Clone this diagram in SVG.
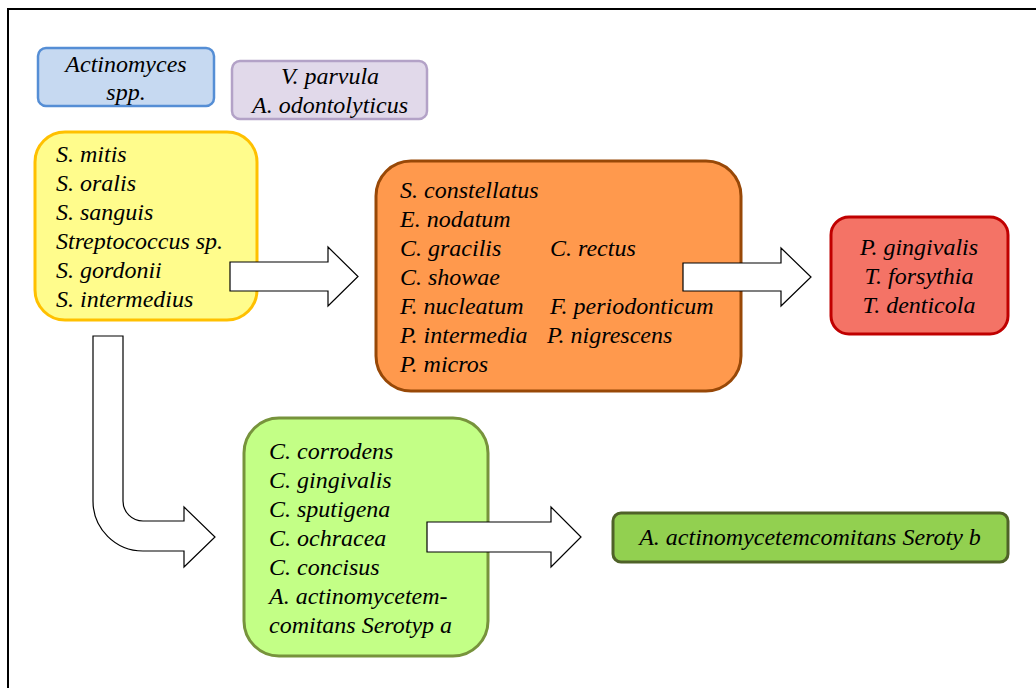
<svg xmlns="http://www.w3.org/2000/svg" width="1036" height="688" viewBox="0 0 1036 688">
<style>
text{font-family:'Liberation Serif','Times New Roman','Noto Serif','DejaVu Serif',serif;font-style:italic;font-size:24px;fill:#000}
.c{text-anchor:middle}
.arr{fill:#fff;stroke:#000;stroke-width:1.2;stroke-linejoin:miter}
.frame{stroke:#000;stroke-width:2;fill:none}
</style>
<rect width="1036" height="688" fill="#fff"/>
<path class="frame" d="M8,688 V9 H1036"/>
<g id="actinomyces">
<rect x="38" y="48" width="176" height="58" rx="8" fill="#C6D9F1" stroke="#558ED5" stroke-width="2.5"/>
<text class="c" x="126" y="72">Actinomyces</text>
<text class="c" x="126" y="100">spp.</text>
</g>
<g id="vparvula">
<rect x="232" y="61" width="195" height="58" rx="8" fill="#E1D9EA" stroke="#B3A2C7" stroke-width="2.5"/>
<text class="c" x="330" y="84">V. parvula</text>
<text class="c" x="330" y="113">A. odontolyticus</text>
</g>
<g id="yellow">
<rect x="35" y="132" width="222" height="188" rx="30" fill="#FFFC8C" stroke="#FFC000" stroke-width="3"/>
<text x="56" y="162">S. mitis</text>
<text x="56" y="191">S. oralis</text>
<text x="56" y="220">S. sanguis</text>
<text x="56" y="249">Streptococcus sp.</text>
<text x="56" y="278">S. gordonii</text>
<text x="56" y="307">S. intermedius</text>
</g>
<g id="orange">
<rect x="376" y="161" width="365" height="230" rx="35" fill="#FF994D" stroke="#984807" stroke-width="3"/>
<text x="400" y="198">S. constellatus</text>
<text x="400" y="227">E. nodatum</text>
<text x="400" y="256">C. gracilis</text>
<text x="550" y="256">C. rectus</text>
<text x="400" y="285">C. showae</text>
<text x="400" y="314">F. nucleatum</text>
<text x="550" y="314">F. periodonticum</text>
<text x="400" y="343">P. intermedia</text>
<text x="547" y="343">P. nigrescens</text>
<text x="400" y="372">P. micros</text>
</g>
<g id="red">
<rect x="831" y="217" width="177" height="117" rx="18" fill="#F47366" stroke="#C00000" stroke-width="3"/>
<text class="c" x="919" y="255">P. gingivalis</text>
<text class="c" x="919" y="284">T. forsythia</text>
<text class="c" x="919" y="313">T. denticola</text>
</g>
<g id="lightgreen">
<rect x="244" y="418" width="244" height="238" rx="35" fill="#C3FF86" stroke="#77933C" stroke-width="3"/>
<text x="269" y="459">C. corrodens</text>
<text x="269" y="488">C. gingivalis</text>
<text x="269" y="517">C. sputigena</text>
<text x="269" y="546">C. ochracea</text>
<text x="269" y="575">C. concisus</text>
<text x="269" y="604">A. actinomycetem-</text>
<text x="269" y="633">comitans Serotyp a</text>
</g>
<g id="darkgreen">
<rect x="613" y="513" width="395" height="49" rx="8" fill="#92D050" stroke="#4F6228" stroke-width="3"/>
<text class="c" x="810" y="545">A. actinomycetemcomitans Seroty b</text>
</g>
<g id="connectors">
<path class="arr" d="M230,262 H328 V247 L358,276.5 L328,306 V291 H230 Z"/>
<path class="arr" d="M683,263 H781 V248 L811,277 L781,306 V291 H683 Z"/>
<path class="arr" d="M427,522 H551 V507 L581,537 L551,567 V552 H427 Z"/>
<path class="arr" d="M93,336 H123 V501 A20,20 0 0 0 143,521 H184 V507 L215,537 L184,567 V551 H143 A50,50 0 0 1 93,501 Z"/>
</g>
</svg>
